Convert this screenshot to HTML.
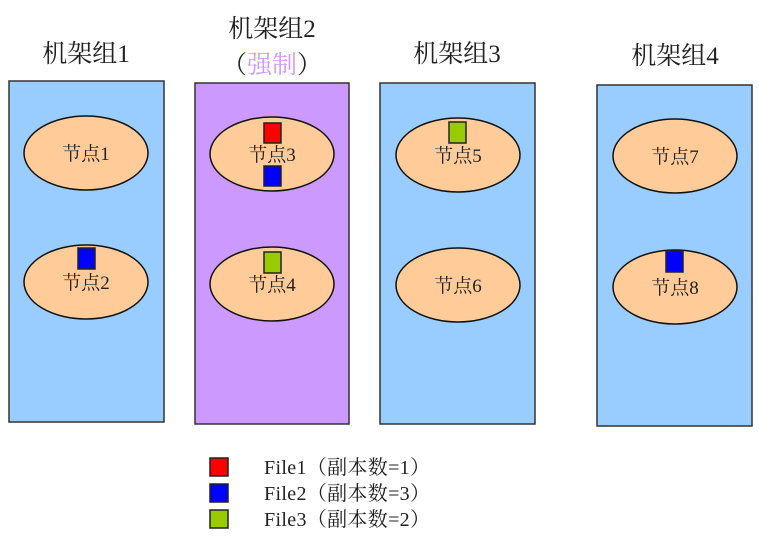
<!DOCTYPE html>
<html><head><meta charset="utf-8"><style>
html,body{margin:0;padding:0;background:#fff;width:759px;height:540px;overflow:hidden}
text{font-family:"Liberation Serif","Noto Serif CJK SC","Noto Sans CJK SC",serif;fill:#222}
</style></head><body>
<svg width="759" height="540" viewBox="0 0 759 540" xmlns="http://www.w3.org/2000/svg">
<g stroke="#333" stroke-width="1.5">
<rect x="9" y="81" width="155" height="341" fill="#99ccff"/>
<rect x="195" y="83" width="154" height="341" fill="#cc99ff"/>
<rect x="380" y="83" width="155" height="341" fill="#99ccff"/>
<rect x="597" y="85" width="155" height="341" fill="#99ccff"/>
</g>
<g fill="#ffcc99" stroke="#111" stroke-width="1.5">
<ellipse cx="86" cy="153" rx="62" ry="37"/>
<ellipse cx="86" cy="282" rx="62" ry="37"/>
<ellipse cx="272" cy="154" rx="62" ry="37"/>
<ellipse cx="272" cy="284" rx="62" ry="37"/>
<ellipse cx="458" cy="155" rx="62" ry="37"/>
<ellipse cx="458" cy="285" rx="62" ry="37"/>
<ellipse cx="675" cy="156" rx="62" ry="37"/>
<ellipse cx="675" cy="287" rx="62" ry="37"/>
</g>
<g font-size="19" text-anchor="middle">
<text x="86" y="160">节点1</text>
<text x="86" y="289">节点2</text>
<text x="272" y="161">节点3</text>
<text x="272" y="291">节点4</text>
<text x="458" y="162">节点5</text>
<text x="458" y="292">节点6</text>
<text x="675" y="163">节点7</text>
<text x="675" y="294">节点8</text>
</g>
<g stroke="#222" stroke-width="1.5">
<rect x="264" y="123" width="17" height="20" fill="#ff0000"/>
<rect x="264" y="166" width="17" height="20" fill="#0000ff"/>
<rect x="78" y="248" width="17" height="21" fill="#0000ff"/>
<rect x="264" y="252" width="17" height="21" fill="#99cc00"/>
<rect x="449" y="122" width="17" height="21" fill="#99cc00"/>
<rect x="666" y="251" width="17" height="21" fill="#0000ff"/>
<rect x="210" y="458" width="18" height="18" fill="#ff0000"/>
<rect x="210" y="484" width="18" height="18" fill="#0000ff"/>
<rect x="210" y="510" width="18" height="18" fill="#99cc00"/>
</g>
<g font-size="25" text-anchor="middle">
<text x="86" y="62">机架组1</text>
<text x="272" y="37">机架组2</text>
<text x="272" y="73">（<tspan style="fill:#cc99ff">强制</tspan>）</text>
<text x="457" y="62">机架组3</text>
<text x="675" y="64">机架组4</text>
</g>
<g font-size="20">
<text x="264" y="474" textLength="166">File1（副本数=1）</text>
<text x="264" y="500" textLength="166">File2（副本数=3）</text>
<text x="264" y="526" textLength="166">File3（副本数=2）</text>
</g>
</svg>
</body></html>
